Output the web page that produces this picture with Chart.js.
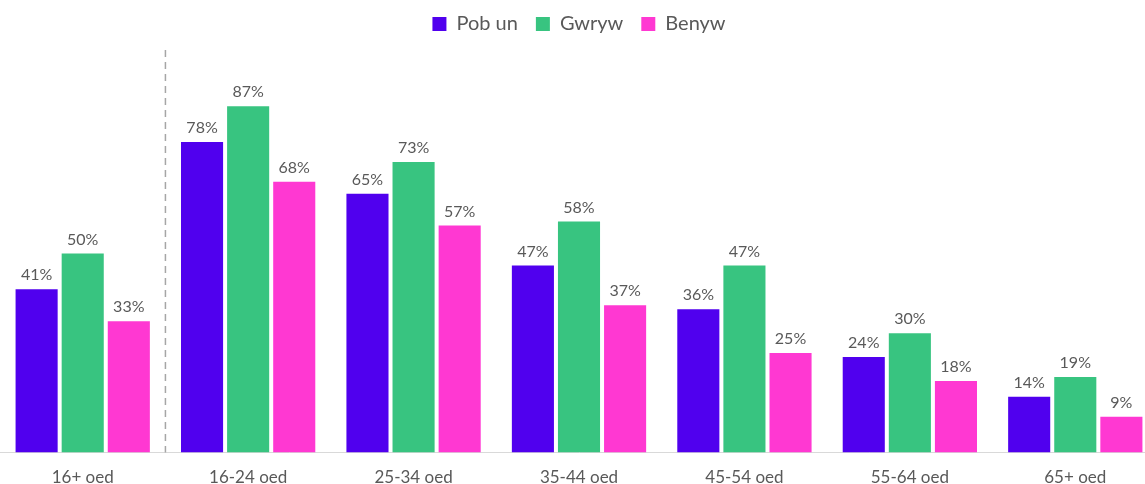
<!DOCTYPE html>
<html>
<head>
<meta charset="utf-8">
<script src="https://cdn.jsdelivr.net/npm/chart.js@4.4.0/dist/chart.umd.min.js"></script>
<style>
  html, body { margin: 0; padding: 0; background: #fff; overflow: hidden; }
  #wrap { width: 1158px; height: 511px; position: relative; top: -4px; }
</style>
</head>
<body>
<div id="wrap"><canvas id="chart"></canvas></div>
<script>
const categories = ["16+ oed", "16-24 oed", "25-34 oed", "35-44 oed", "45-54 oed", "55-64 oed", "65+ oed"];
const pobUn = [41, 78, 65, 47, 36, 24, 14];
const gwryw = [50, 87, 73, 58, 47, 30, 19];
const benyw = [33, 68, 57, 37, 25, 18, 9];

const textColor = "#595959";
const fontFamily = "Lato, 'Open Sans', sans-serif";

// percentage labels above each bar
const barLabels = {
  id: "barLabels",
  afterDatasetsDraw(chart) {
    const ctx = chart.ctx;
    ctx.save();
    ctx.font = "16px " + fontFamily;
    ctx.fillStyle = textColor;
    ctx.textAlign = "center";
    ctx.textBaseline = "bottom";
    chart.data.datasets.forEach((ds, i) => {
      chart.getDatasetMeta(i).data.forEach((bar, j) => {
        ctx.fillText(ds.data[j] + "%", bar.x, bar.y - 6);
      });
    });
    ctx.restore();
  }
};

// dashed separator after the first category
const separator = {
  id: "separator",
  afterDraw(chart) {
    const x = chart.scales.x;
    const px = (x.getPixelForValue(0) + x.getPixelForValue(1)) / 2;
    const ctx = chart.ctx;
    ctx.save();
    ctx.strokeStyle = "#a6a6a6";
    ctx.lineWidth = 1.5;
    ctx.setLineDash([7, 5]);
    ctx.beginPath();
    ctx.moveTo(px, 54);
    ctx.lineTo(px, chart.chartArea.bottom);
    ctx.stroke();
    ctx.restore();
  }
};

new Chart(document.getElementById("chart"), {
  type: "bar",
  data: {
    labels: categories,
    datasets: [
      { label: "Pob un", data: pobUn, backgroundColor: "#5000EE" },
      { label: "Gwryw", data: gwryw, backgroundColor: "#38C480" },
      { label: "Benyw", data: benyw, backgroundColor: "#FF38D2" }
    ]
  },
  options: {
    responsive: true,
    maintainAspectRatio: false,
    animation: false,
    categoryPercentage: 0.836,
    barPercentage: 0.913,
    layout: { padding: { top: 0, left: 0, right: 0, bottom: 4 } },
    plugins: {
      tooltip: { enabled: false },
      legend: {
        position: "top",
        labels: {
          boxWidth: 14,
          boxHeight: 14,
          padding: 18,
          color: textColor,
          font: { size: 20, family: fontFamily }
        }
      }
    },
    scales: {
      x: {
        grid: { display: false, drawTicks: false },
        border: { color: "#d9d9d9", width: 1 },
        ticks: { color: textColor, font: { size: 17, family: fontFamily }, padding: 15 }
      },
      y: {
        display: false,
        min: 0,
        max: 102.6
      }
    }
  },
  plugins: [barLabels, separator]
});
</script>
</body>
</html>
